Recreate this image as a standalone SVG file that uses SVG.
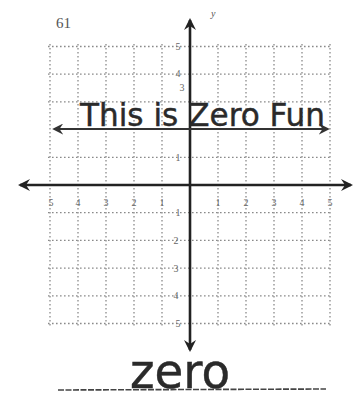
<svg xmlns="http://www.w3.org/2000/svg" width="355" height="406" viewBox="0 0 355 406">
<style>
.grid line{stroke:#8a8a8a;stroke-width:1.3;stroke-dasharray:1.6 2.4;fill:none}
.axis{stroke:#222;stroke-width:2.6;fill:none}
.tick{font-family:"Liberation Serif",serif;font-size:10px;fill:#666;text-anchor:middle}
.hand{font-family:"DejaVu Sans Condensed","DejaVu Sans",sans-serif;fill:#2a2a2a;stroke:#2a2a2a;stroke-width:0.4}
</style>
<defs>
<marker id="ah" viewBox="0 0 12 12" refX="10" refY="6" markerWidth="12" markerHeight="12" markerUnits="userSpaceOnUse" orient="auto-start-reverse">
<path d="M0,0 L12,6 L0,12 L4,6 Z" fill="#222"/>
</marker>
<marker id="ah2" viewBox="0 0 12 12" refX="10" refY="6" markerWidth="11" markerHeight="11" markerUnits="userSpaceOnUse" orient="auto-start-reverse">
<path d="M0,0 L12,6 L0,12 L4,6 Z" fill="#333"/>
</marker>
</defs>
<rect width="355" height="406" fill="#fff"/>
<text x="56" y="28" font-family="Liberation Serif,serif" font-size="15" fill="#555">61</text>
<g id="grid" class="grid">
<line x1="50" y1="44" x2="50" y2="326"/>
<line x1="78" y1="44" x2="78" y2="326"/>
<line x1="106" y1="44" x2="106" y2="326"/>
<line x1="134" y1="44" x2="134" y2="326"/>
<line x1="162" y1="44" x2="162" y2="326"/>
<line x1="218" y1="44" x2="218" y2="326"/>
<line x1="246" y1="44" x2="246" y2="326"/>
<line x1="274" y1="44" x2="274" y2="326"/>
<line x1="302" y1="44" x2="302" y2="326"/>
<line x1="330" y1="44" x2="330" y2="326"/>
<line x1="48" y1="46.5" x2="332" y2="46.5"/>
<line x1="48" y1="74.2" x2="332" y2="74.2"/>
<line x1="48" y1="101.9" x2="332" y2="101.9"/>
<line x1="48" y1="157.3" x2="332" y2="157.3"/>
<line x1="48" y1="212.7" x2="332" y2="212.7"/>
<line x1="48" y1="240.4" x2="332" y2="240.4"/>
<line x1="48" y1="268.1" x2="332" y2="268.1"/>
<line x1="48" y1="295.8" x2="332" y2="295.8"/>
<line x1="48" y1="323.5" x2="332" y2="323.5"/>
</g>
<g id="connectors">
<line class="axis" x1="20" y1="185" x2="351" y2="185" marker-start="url(#ah)" marker-end="url(#ah)"/>
<line class="axis" x1="190" y1="20" x2="190" y2="350" marker-start="url(#ah)" marker-end="url(#ah)"/>
<line x1="54" y1="129" x2="328" y2="129" stroke="#333" stroke-width="1.8" marker-start="url(#ah2)" marker-end="url(#ah2)"/>
</g>
<g id="labels">
<text x="211" y="17" font-family="Liberation Serif,serif" font-style="italic" font-size="10" fill="#555">y</text>
<text class="tick" x="51" y="206">5</text>
<text class="tick" x="78" y="206">4</text>
<text class="tick" x="106" y="206">3</text>
<text class="tick" x="134" y="206">2</text>
<text class="tick" x="162" y="206">1</text>
<text class="tick" x="218" y="206">1</text>
<text class="tick" x="246" y="206">2</text>
<text class="tick" x="274" y="206">3</text>
<text class="tick" x="302" y="206">4</text>
<text class="tick" x="330" y="206">5</text>
<text class="tick" x="178" y="50">5</text>
<text class="tick" x="178" y="77">4</text>
<text class="tick" x="182" y="91" font-size="8">3</text>
<text class="tick" x="178" y="161">1</text>
<text class="tick" x="178" y="216">1</text>
<text class="tick" x="176" y="244">2</text>
<text class="tick" x="176" y="272">3</text>
<text class="tick" x="176" y="299">4</text>
<text class="tick" x="178" y="327">5</text>
</g>
<g id="handwriting">
<text class="hand" x="80" y="126" font-size="32" textLength="245" lengthAdjust="spacingAndGlyphs">This is Zero Fun</text>
<text class="hand" x="130" y="388" font-size="48" textLength="100" lengthAdjust="spacingAndGlyphs">zero</text>
<line x1="58" y1="390" x2="326" y2="389" stroke="#444" stroke-width="1.6" stroke-dasharray="6 1.5"/>
</g>
</svg>
